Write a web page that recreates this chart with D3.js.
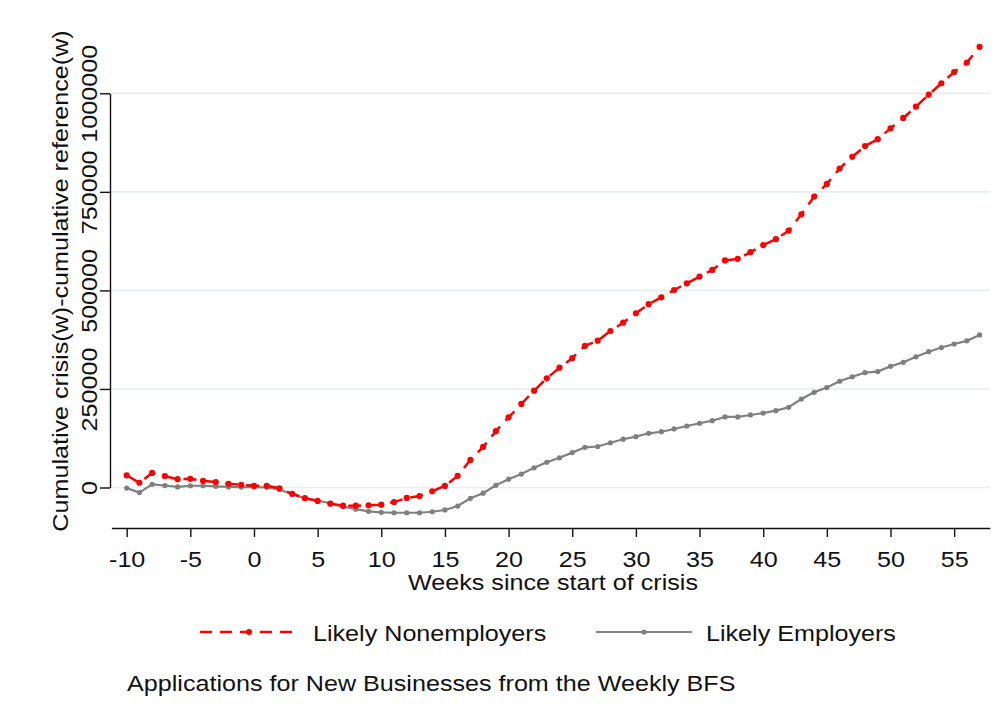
<!DOCTYPE html>
<html>
<head>
<meta charset="utf-8">
<script src="https://cdn.jsdelivr.net/npm/d3@7"></script>
<style>
  body { margin: 0; background: #fff; }
  text { font-family: "Liberation Sans", Arial, sans-serif; fill: #111; }
</style>
</head>
<body>
<div id="chart"></div>
<script>
// weekly BFS applications, cumulative crisis minus cumulative reference

var weeks = [-10, -9, -8, -7, -6, -5, -4, -3, -2, -1, 0, 1, 2, 3, 4, 5, 6, 7, 8, 9,
  10, 11, 12, 13, 14, 15, 16, 17, 18, 19, 20, 21, 22, 23, 24, 25, 26, 27, 28, 29,
  30, 31, 32, 33, 34, 35, 36, 37, 38, 39, 40, 41, 42, 43, 44, 45, 46, 47, 48, 49,
  50, 51, 52, 53, 54, 55, 56, 57];

var nonemployers = [31000, 12000, 37000, 29000, 21000, 22000, 17000, 14000, 9500, 7000,
  4500, 4500, -2000, -16000, -27000, -34000, -41000, -46000, -46000, -45000,
  -43500, -37000, -26500, -21500, -9500, 4000, 29500, 70000, 103000, 143000,
  178000, 212000, 245500, 277000, 304000, 328000, 359500, 372500, 397000, 418000,
  442000, 465000, 482500, 501000, 518000, 535000, 552000, 576000, 580000, 597000,
  615000, 630000, 651500, 693000, 738000, 770000, 809000, 839000, 866000, 883500,
  911000, 937500, 966000, 996500, 1025500, 1054000, 1078000, 1118000];

var employers = [-1500, -13000, 8000, 5000, 1500, 4500, 4500, 3000, 1500, 1000,
  1000, 500, -5000, -17000, -27500, -33500, -40000, -48500, -55000, -60500,
  -63000, -64000, -64000, -64000, -61500, -57000, -47000, -27500, -14500, 5500,
  21000, 34000, 50000, 64000, 75500, 88500, 102000, 104000, 113500, 122500,
  129000, 137500, 141500, 148500, 156000, 163000, 169500, 179000, 179000, 184000,
  189000, 195000, 203500, 224500, 241500, 253500, 269500, 281000, 291500, 294000,
  307500, 317500, 331500, 344500, 355000, 364000, 372000, 387000];

var xTicks = [-10, -5, 0, 5, 10, 15, 20, 25, 30, 35, 40, 45, 50, 55];
var yTicks = [0, 250000, 500000, 750000, 1000000];

var seriesNames = ["Likely Nonemployers", "Likely Employers"];
var xTitle = "Weeks since start of crisis";
var yTitle = "Cumulative crisis(w)-cumulative reference(w)";
var note = "Applications for New Businesses from the Weekly BFS";

var width = 1002, height = 719;
var stretch = 1.17; // text in the picture is a bit wide
var fontSize = 21.5;
var plain = function(d) { return String(d); }; // keep hyphen minus like the original

var svg = d3.select("#chart").append("svg")
  .attr("width", width)
  .attr("height", height);

var x = d3.scaleLinear().domain([-11.2, 57.8]).range([111.4, 989.8]);
var y = d3.scaleLinear().domain([0, 1000000]).range([487.5, 93.3]);

// gridlines
svg.append("g").selectAll("line")
  .data(yTicks)
  .enter().append("line")
  .attr("x1", 111).attr("x2", 990)
  .attr("y1", function(d) { return y(d); })
  .attr("y2", function(d) { return y(d); })
  .attr("stroke", "#e6eef1")
  .attr("stroke-width", 1.6);

// x axis
var gx = svg.append("g")
  .attr("transform", "translate(0,528)")
  .call(d3.axisBottom(x).tickValues(xTicks).tickSize(9).tickSizeOuter(0).tickFormat(plain));
gx.select(".domain").attr("stroke", "#111").attr("stroke-width", 1.4);
gx.selectAll(".tick line").attr("stroke", "#111").attr("stroke-width", 1.4);
gx.selectAll(".tick text")
  .attr("y", 39).attr("dy", null)
  .attr("font-size", fontSize)
  .attr("font-family", null)
  .attr("transform", "scale(" + stretch + ",1)");

// y axis
var gy = svg.append("g")
  .attr("transform", "translate(110,0)")
  .call(d3.axisLeft(y).tickValues(yTicks).tickSize(10).tickSizeOuter(0).tickFormat(plain));
gy.select(".domain").attr("stroke", "#111").attr("stroke-width", 1.4);
gy.selectAll(".tick line").attr("stroke", "#111").attr("stroke-width", 1.4);
gy.selectAll(".tick text")
  .attr("x", null).attr("dy", null)
  .attr("text-anchor", "middle")
  .attr("font-size", fontSize)
  .attr("font-family", null)
  .attr("transform", "translate(-13,0) rotate(-90) scale(" + stretch + ",1)");

// axis titles
svg.append("text")
  .attr("text-anchor", "middle")
  .attr("font-size", fontSize)
  .attr("transform", "translate(553,590) scale(" + stretch + ",1)")
  .text(xTitle);

svg.append("text")
  .attr("text-anchor", "middle")
  .attr("font-size", fontSize)
  .attr("transform", "translate(68,281) rotate(-90) scale(" + stretch + ",1)")
  .text(yTitle);

// series
var nonData = weeks.map(function(w, i) { return [w, nonemployers[i]]; });
var empData = weeks.map(function(w, i) { return [w, employers[i]]; });

var line = d3.line()
  .x(function(d) { return x(d[0]); })
  .y(function(d) { return y(d[1]); });

svg.append("path")
  .datum(empData)
  .attr("d", line)
  .attr("fill", "none")
  .attr("stroke", "#808080")
  .attr("stroke-width", 2.2);

svg.append("g").selectAll("circle")
  .data(empData)
  .enter().append("circle")
  .attr("cx", function(d) { return x(d[0]); })
  .attr("cy", function(d) { return y(d[1]); })
  .attr("r", 2.6)
  .attr("fill", "#7f7f7f");

svg.append("path")
  .datum(nonData)
  .attr("d", line)
  .attr("fill", "none")
  .attr("stroke", "#ff0000")
  .attr("stroke-width", 2.5)
  .attr("stroke-dasharray", "13,8");

svg.append("g").selectAll("circle")
  .data(nonData)
  .enter().append("circle")
  .attr("cx", function(d) { return x(d[0]); })
  .attr("cy", function(d) { return y(d[1]); })
  .attr("r", 3.1)
  .attr("fill", "#ff0000");

// legend
var legend = svg.append("g");
legend.append("line")
  .attr("x1", 200).attr("x2", 298).attr("y1", 632).attr("y2", 632)
  .attr("stroke", "#ff0000").attr("stroke-width", 2.5)
  .attr("stroke-dasharray", "12,8");
legend.append("circle").attr("cx", 249).attr("cy", 632).attr("r", 3).attr("fill", "#ff0000");
legend.append("text")
  .attr("font-size", fontSize)
  .attr("transform", "translate(313,641) scale(" + stretch + ",1)")
  .text(seriesNames[0]);

legend.append("line")
  .attr("x1", 596).attr("x2", 692).attr("y1", 632).attr("y2", 632)
  .attr("stroke", "#808080").attr("stroke-width", 2.2);
legend.append("circle").attr("cx", 644).attr("cy", 632).attr("r", 2.6).attr("fill", "#7f7f7f");
legend.append("text")
  .attr("font-size", fontSize)
  .attr("transform", "translate(706,641) scale(" + stretch + ",1)")
  .text(seriesNames[1]);

// note
svg.append("text")
  .attr("font-size", fontSize)
  .attr("transform", "translate(127,691) scale(" + stretch + ",1)")
  .text(note);
</script>
</body>
</html>
